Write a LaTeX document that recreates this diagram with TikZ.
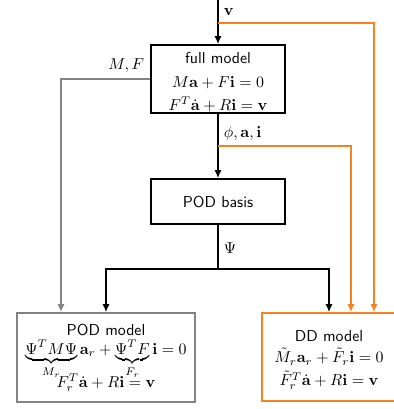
\documentclass[tikz,border=0pt]{standalone}
\usepackage{amsmath}
\usetikzlibrary{arrows.meta}
\definecolor{ddorange}{RGB}{245,130,32}
\definecolor{podgray}{RGB}{130,130,136}
\begin{document}
\begin{tikzpicture}[x=0.63pt,y=-0.63pt,
  box/.style={draw,line width=1.1pt,align=center,inner sep=0pt,font=\sffamily},
  flow/.style={line width=1.1pt,-{Latex[length=5pt,width=4.5pt]}},
  oflow/.style={line width=0.9pt,draw=ddorange,-{Latex[length=5pt,width=4.5pt]}},
  gflow/.style={line width=0.9pt,draw=podgray,-{Latex[length=5pt,width=4.5pt]}},
  lbl/.style={inner sep=1pt}]
\useasboundingbox (0,0) rectangle (393,409);
\node[box,minimum width=134*0.63pt,minimum height=68*0.63pt] (full) at (218,79)
  {\rule{0pt}{10.8pt}full model\\[3pt] $M\mathbf{a}+F\mathbf{i}=0$\\[2.5pt] $F^T\dot{\mathbf{a}}+R\mathbf{i}=\mathbf{v}$};
\node[box,minimum width=134*0.63pt,minimum height=45*0.63pt] (basis) at (218,201.5) {POD basis};
\node[box,draw=podgray,minimum width=178*0.63pt,minimum height=89*0.63pt] (pod) at (106,357.5)
  {POD model\\[0pt] $\smash{\underbrace{\Psi^T M\Psi}_{M_r}\mathbf{a}_r+\underbrace{\Psi^T F}_{F_r}\mathbf{i}=0}$\\[9pt] $F_r^T\dot{\mathbf{a}}+R\mathbf{i}=\mathbf{v}$};
\node[box,draw=ddorange,minimum width=134*0.63pt,minimum height=88*0.63pt] (dd) at (329,357)
  {\rule{0pt}{10.8pt}DD model\\[1.5pt] $\tilde{M}_r\mathbf{a}_r+\tilde{F}_r\mathbf{i}=0$\\[2.5pt] $\tilde{F}_r^T\dot{\mathbf{a}}+R\mathbf{i}=\mathbf{v}$};
\coordinate (in) at (218,0);
\coordinate (vs) at (218,23);
\coordinate (vc) at (374,23);
\coordinate (ps) at (218,146);
\coordinate (pc) at (351,146);
\coordinate (mc) at (61,79);
\coordinate (j) at (218,269);
\draw[flow] (in) -- (full.north);
\node[lbl,anchor=west] (vlab) at (222,12) {$\mathbf{v}$};
\draw[oflow] (vs) -- (vc) -- (vc |- dd.north);
\draw[flow] (full.south) -- (basis.north);
\node[lbl,anchor=west] (plab) at (222,134) {$\phi,\mathbf{a},\mathbf{i}$};
\draw[oflow] (ps) -- (pc) -- (pc |- dd.north);
\draw[gflow] (full.west |- mc) -- (mc) -- (mc |- pod.north);
\node[lbl,anchor=east] (mflab) at (146,66) {$M,F$};
\draw[line width=1.1pt] (basis.south) -- (j);
\node[lbl,anchor=west] (psilab) at (222,248) {$\Psi$};
\draw[flow] (j) -| (pod.north);
\draw[flow] (j) -| (dd.north);
\end{tikzpicture}
\end{document}
